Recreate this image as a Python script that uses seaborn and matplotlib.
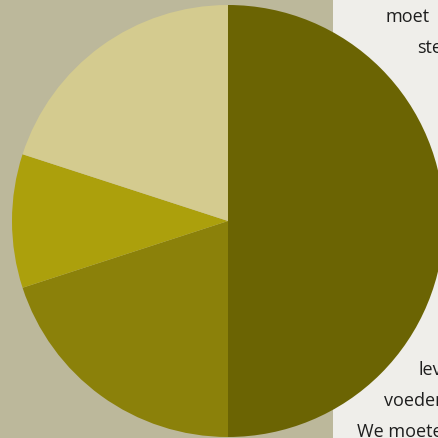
import matplotlib
matplotlib.use('Agg')
import matplotlib.pyplot as plt
import seaborn as sns
from matplotlib.patches import Rectangle

# pie shares, clockwise from the top
shares = [50, 20, 10, 20]
slice_colors = ['#6b6403', '#8b810a', '#aca00c', '#d4cb8f']

# partly hidden text column on the right
text_lines = ['moet', 'steeds', 'leven', 'voeden', 'We moeten']
text_x = [386, 417, 419, 384, 357]
text_baseline = [22, 53, 375, 406, 437]

sns.set_theme(style='white')
plt.rcParams['font.family'] = ['Open Sans', 'DejaVu Sans']

W = H = 439
fig = plt.figure(figsize=(W / 100, H / 100), dpi=100)
fig.patch.set_facecolor('#efeeea')

# left panel background
fig.patches.append(Rectangle((0, 0), 333 / W, 1, transform=fig.transFigure,
                             facecolor='#bcb89b', edgecolor='none', zorder=0))

for txt, x, yb in zip(text_lines, text_x, text_baseline):
    fig.text(x / W, 1 - yb / H, txt, ha='left', va='baseline',
             fontsize=13, color='#1e1e1e', zorder=1)

cx, cy, r = 228, 222, 216
ax = fig.add_axes([(cx - r) / W, (H - cy - r) / H, 2 * r / W, 2 * r / H])
ax.set_zorder(2)
ax.pie(shares, colors=sns.color_palette(slice_colors), startangle=90,
       counterclock=False, radius=1, wedgeprops=dict(linewidth=0))
ax.set_xlim(-1, 1)
ax.set_ylim(-1, 1)
ax.set_aspect('equal')
ax.axis('off')
ax.patch.set_alpha(0)

fig.savefig('out.png', dpi=100, facecolor=fig.get_facecolor())
plt.close(fig)
